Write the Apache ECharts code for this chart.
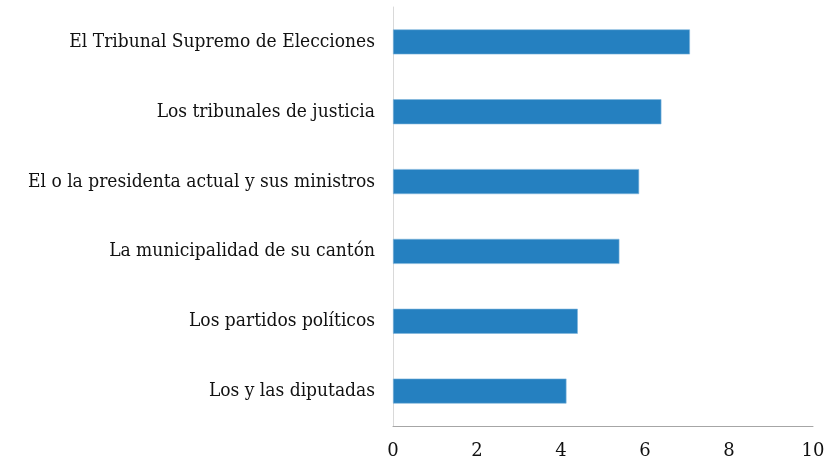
<!DOCTYPE html>
<html>
<head>
<meta charset="utf-8">
<script src="https://cdn.jsdelivr.net/npm/echarts@6/dist/echarts.min.js"></script>
<style>
  html, body { margin: 0; padding: 0; background: #fff; }
  #chart { width: 840px; height: 464px; }
</style>
</head>
<body>
<div id="chart"></div>
<script>
// categories from bottom to top (category axis on y goes upward)
const categories = [
  'Los y las diputadas',
  'Los partidos políticos',
  'La municipalidad de su cantón',
  'El o la presidenta actual y sus ministros',
  'Los tribunales de justicia',
  'El Tribunal Supremo de Elecciones'
];
const values = [4.13, 4.40, 5.39, 5.86, 6.39, 7.07];
const xTicks = [0, 2, 4, 6, 8, 10];

const chart = echarts.init(document.getElementById('chart'), null, { renderer: 'canvas' });

const option = {
  animation: false,
  grid: {
    left: 393,
    right: 27,
    top: 7,
    bottom: 38,
    containLabel: false
  },
  xAxis: {
    type: 'value',
    min: xTicks[0],
    max: xTicks[xTicks.length - 1],
    interval: 2,
    axisLine: { show: true, lineStyle: { color: '#a6a6a6', width: 1 } },
    axisTick: { show: false },
    splitLine: { show: false },
    axisLabel: {
      margin: 16,
      color: '#111',
      fontFamily: '"DejaVu Serif", serif',
      fontSize: 18
    }
  },
  yAxis: {
    type: 'category',
    data: categories,
    axisLine: { show: true, lineStyle: { color: '#d9d9d9', width: 1 } },
    axisTick: { show: false },
    axisLabel: {
      margin: 18,
      color: '#111',
      fontFamily: '"DejaVu Serif Condensed", "DejaVu Serif", serif',
      fontSize: 19
    }
  },
  series: [{
    type: 'bar',
    data: values,
    barWidth: 25,
    itemStyle: {
      color: '#2580c0',
      borderColor: '#7fb6dc',
      borderWidth: 0.6
    }
  }]
};

chart.setOption(option);
</script>
</body>
</html>
